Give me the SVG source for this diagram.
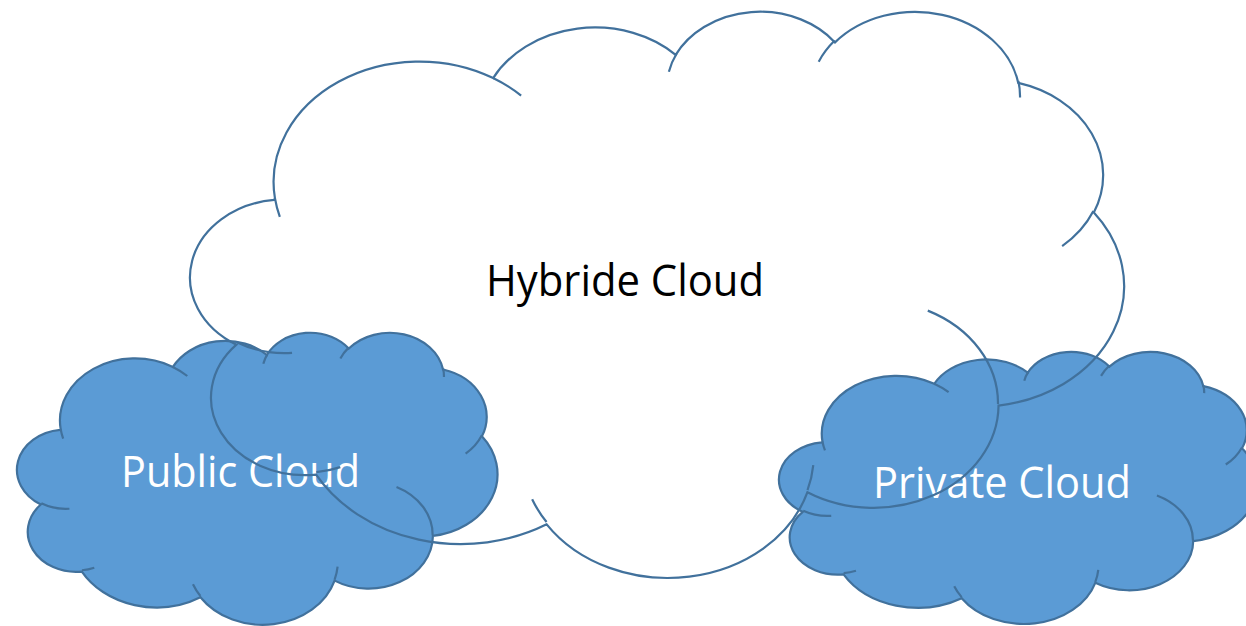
<svg xmlns="http://www.w3.org/2000/svg" xmlns:xlink="http://www.w3.org/1999/xlink" width="1246" height="626" viewBox="0 0 1246 626">
  <style>
    .outline { stroke: #41719C; stroke-width: 2.2; }
    .blue { fill: #5B9BD5; }
    .nofill { fill: none; }
    .detail { fill: none; stroke: #41719C; stroke-width: 2.2; }
    .label { font-family: "Open Sans", "Noto Sans", "Liberation Sans", sans-serif; font-size: 43px; text-anchor: middle; }
    .white { fill: #FFFFFF; }
    .black { fill: #000000; }
  </style>
  <defs>
    <path id="cloudOutline" vector-effect="non-scaling-stroke" d="M3900 14370 A6753 9190 0 0 1 14005 5202 A5333 7267 0 0 1 22456 3431 A4365 5945 0 0 1 29833 2480 A4857 6595 0 0 1 38318 5575 A5333 7273 0 0 1 41818 15459 A6775 9220 0 0 1 37405 30202 A5785 7867 0 0 1 28557 36812 A6752 9215 0 0 1 16482 39264 A7720 10543 0 0 1 5807 35471 A4360 5918 0 0 1 2116 25549 A4345 5945 0 0 1 3866 14505 Z"/>
    <path id="cloudDetail" vector-effect="non-scaling-stroke" d="M4693 26177 A4345 5945 0 0 1 2160 25380 M6928 34899 A4360 5918 0 0 1 5819 35281 M16478 39090 A6752 9215 0 0 1 15810 37349 M28827 34751 A6752 9215 0 0 1 28560 36661 M34129 22954 A5785 7867 0 0 1 37380 30089 M41798 15354 A5333 7273 0 0 1 40350 18030 M38324 5426 A4857 6595 0 0 1 38400 6690 M29078 3952 A4857 6595 0 0 1 29820 2340 M22141 4720 A4365 5945 0 0 1 22500 3330 M14000 5192 A6753 9190 0 0 1 15300 6541 M4127 15789 A6753 9190 0 0 1 3900 14370"/>
  </defs>
  <rect x="0" y="0" width="1246" height="626" fill="#FFFFFF"/>

  <g id="public-cloud">
    <g transform="translate(17.3,331.8) scale(0.011111,0.0067593)">
      <use xlink:href="#cloudOutline" class="outline blue"/>
      <use xlink:href="#cloudDetail" class="detail"/>
    </g>
    <text class="label white" x="240.5" y="487" textLength="239" lengthAdjust="spacingAndGlyphs">Public Cloud</text>
  </g>

  <g id="private-cloud">
    <g transform="translate(779.3,351) scale(0.011065,0.0062963)">
      <use xlink:href="#cloudOutline" class="outline blue"/>
      <use xlink:href="#cloudDetail" class="detail"/>
    </g>
    <text class="label white" x="1002" y="497.5" textLength="258" lengthAdjust="spacingAndGlyphs">Private Cloud</text>
  </g>

  <g id="connectors"></g>

  <g id="hybrid-cloud">
    <g transform="translate(190.7,9.9) scale(0.021597,0.013102)">
      <use xlink:href="#cloudOutline" class="outline nofill"/>
      <use xlink:href="#cloudDetail" class="detail"/>
    </g>
    <text class="label black" x="625" y="296" textLength="278" lengthAdjust="spacingAndGlyphs">Hybride Cloud</text>
  </g>
</svg>
